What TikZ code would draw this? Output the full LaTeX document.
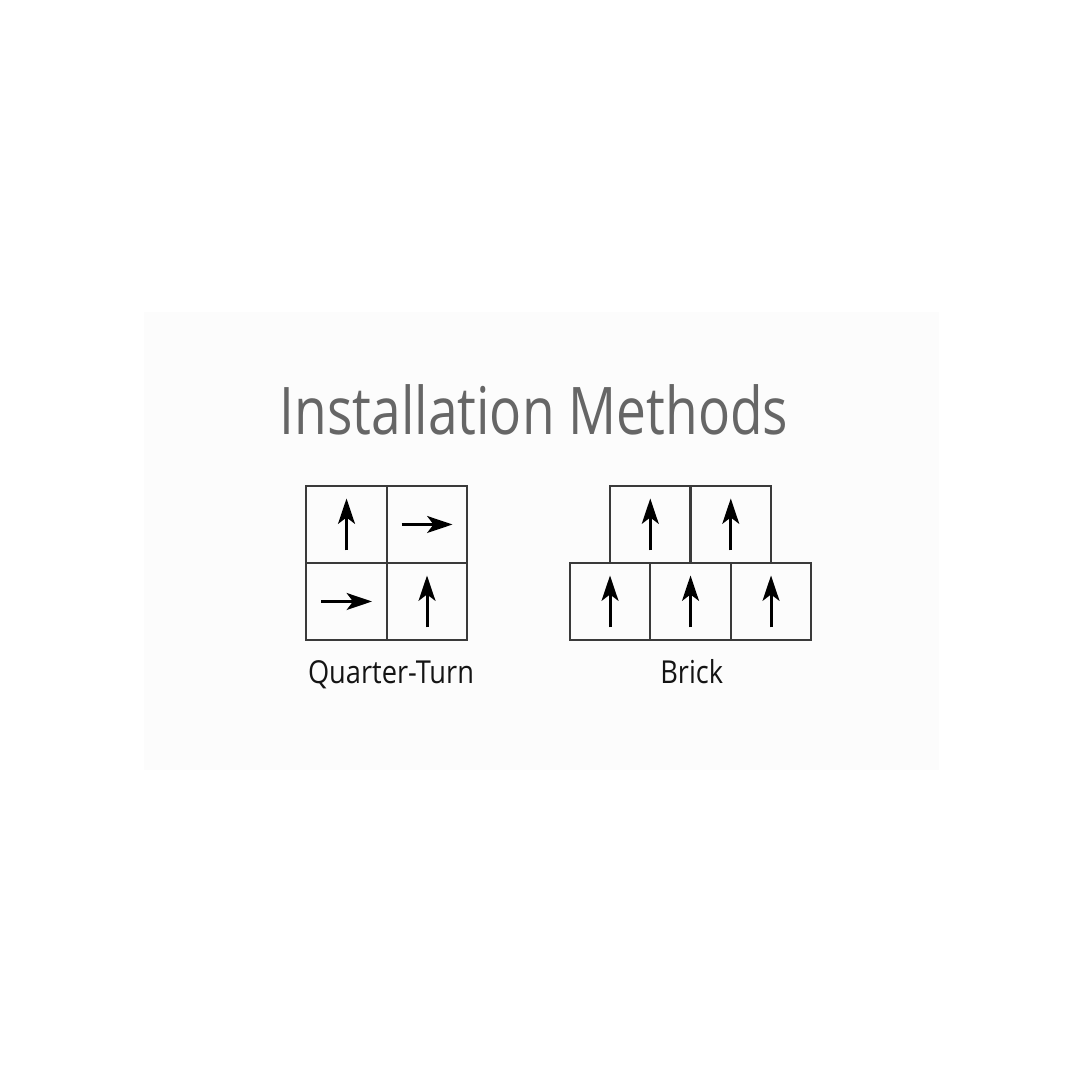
\documentclass[tikz,border=0pt]{standalone}
\usepackage{fontspec}
\usepackage{xcolor}
\usetikzlibrary{positioning,arrows.meta}
\setmainfont{Open Sans}
\newfontfamily\titlefont[FakeStretch=0.81]{Open Sans}
\newfontfamily\labelfont[FakeStretch=0.86]{Open Sans}
\definecolor{titlegray}{HTML}{666666}
\definecolor{linegray}{HTML}{3A3A3A}
\tikzset{
  tile/.style={draw=linegray, line width=0.6pt, rectangle, minimum width=0.805cm,
    minimum height=0.77cm, inner sep=0pt, outer sep=0pt},
  dirarrow/.style={line width=0.85pt, -{Stealth[length=7.2pt,width=4.8pt,inset=1.8pt]}},
  caption/.style={anchor=base, text=black!92, font=\labelfont\fontsize{9}{11}\selectfont},
}

\begin{document}
\begin{tikzpicture}
\useasboundingbox (0,0) rectangle (10.8,10.8);
\fill[white] (0,0) rectangle (10.8,10.8);
\fill[black!1.2] (1.44,3.10) rectangle (9.39,7.68);

\node[anchor=base, text=titlegray, font=\titlefont\fontsize{18.7}{22}\selectfont] (title) at (5.34,6.45) {Installation Methods};

% quarter-turn
\node[tile] (qt1) at (3.465,5.555) {};
\node[tile, right=0pt of qt1] (qt2) {};
\node[tile, below=0pt of qt1] (qt3) {};
\node[tile, right=0pt of qt3] (qt4) {};
\draw [dirarrow] ([yshift=-0.26cm]qt1.center) -- ([yshift=0.26cm]qt1.center);
\draw [dirarrow] ([xshift=-0.255cm]qt2.center) -- ([xshift=0.255cm]qt2.center);
\draw [dirarrow] ([xshift=-0.255cm]qt3.center) -- ([xshift=0.255cm]qt3.center);
\draw [dirarrow] ([yshift=-0.26cm]qt4.center) -- ([yshift=0.26cm]qt4.center);
\node[caption] (qtlab) at (3.91,3.96) {Quarter-Turn};

% brick
\node[tile] (br1) at (6.10,4.785) {};
\node[tile, right=0pt of br1] (br2) {};
\node[tile, right=0pt of br2] (br3) {};
\node[tile, anchor=south west] (bt1) at (br1.north) {};
\node[tile, right=0pt of bt1] (bt2) {};
\foreach \t in {br1,br2,br3,bt1,bt2}
  \draw [dirarrow] ([yshift=-0.26cm]\t.center) -- ([yshift=0.26cm]\t.center);
\node[caption] (brlab) at (6.917,3.96) {Brick};
\end{tikzpicture}
\end{document}
